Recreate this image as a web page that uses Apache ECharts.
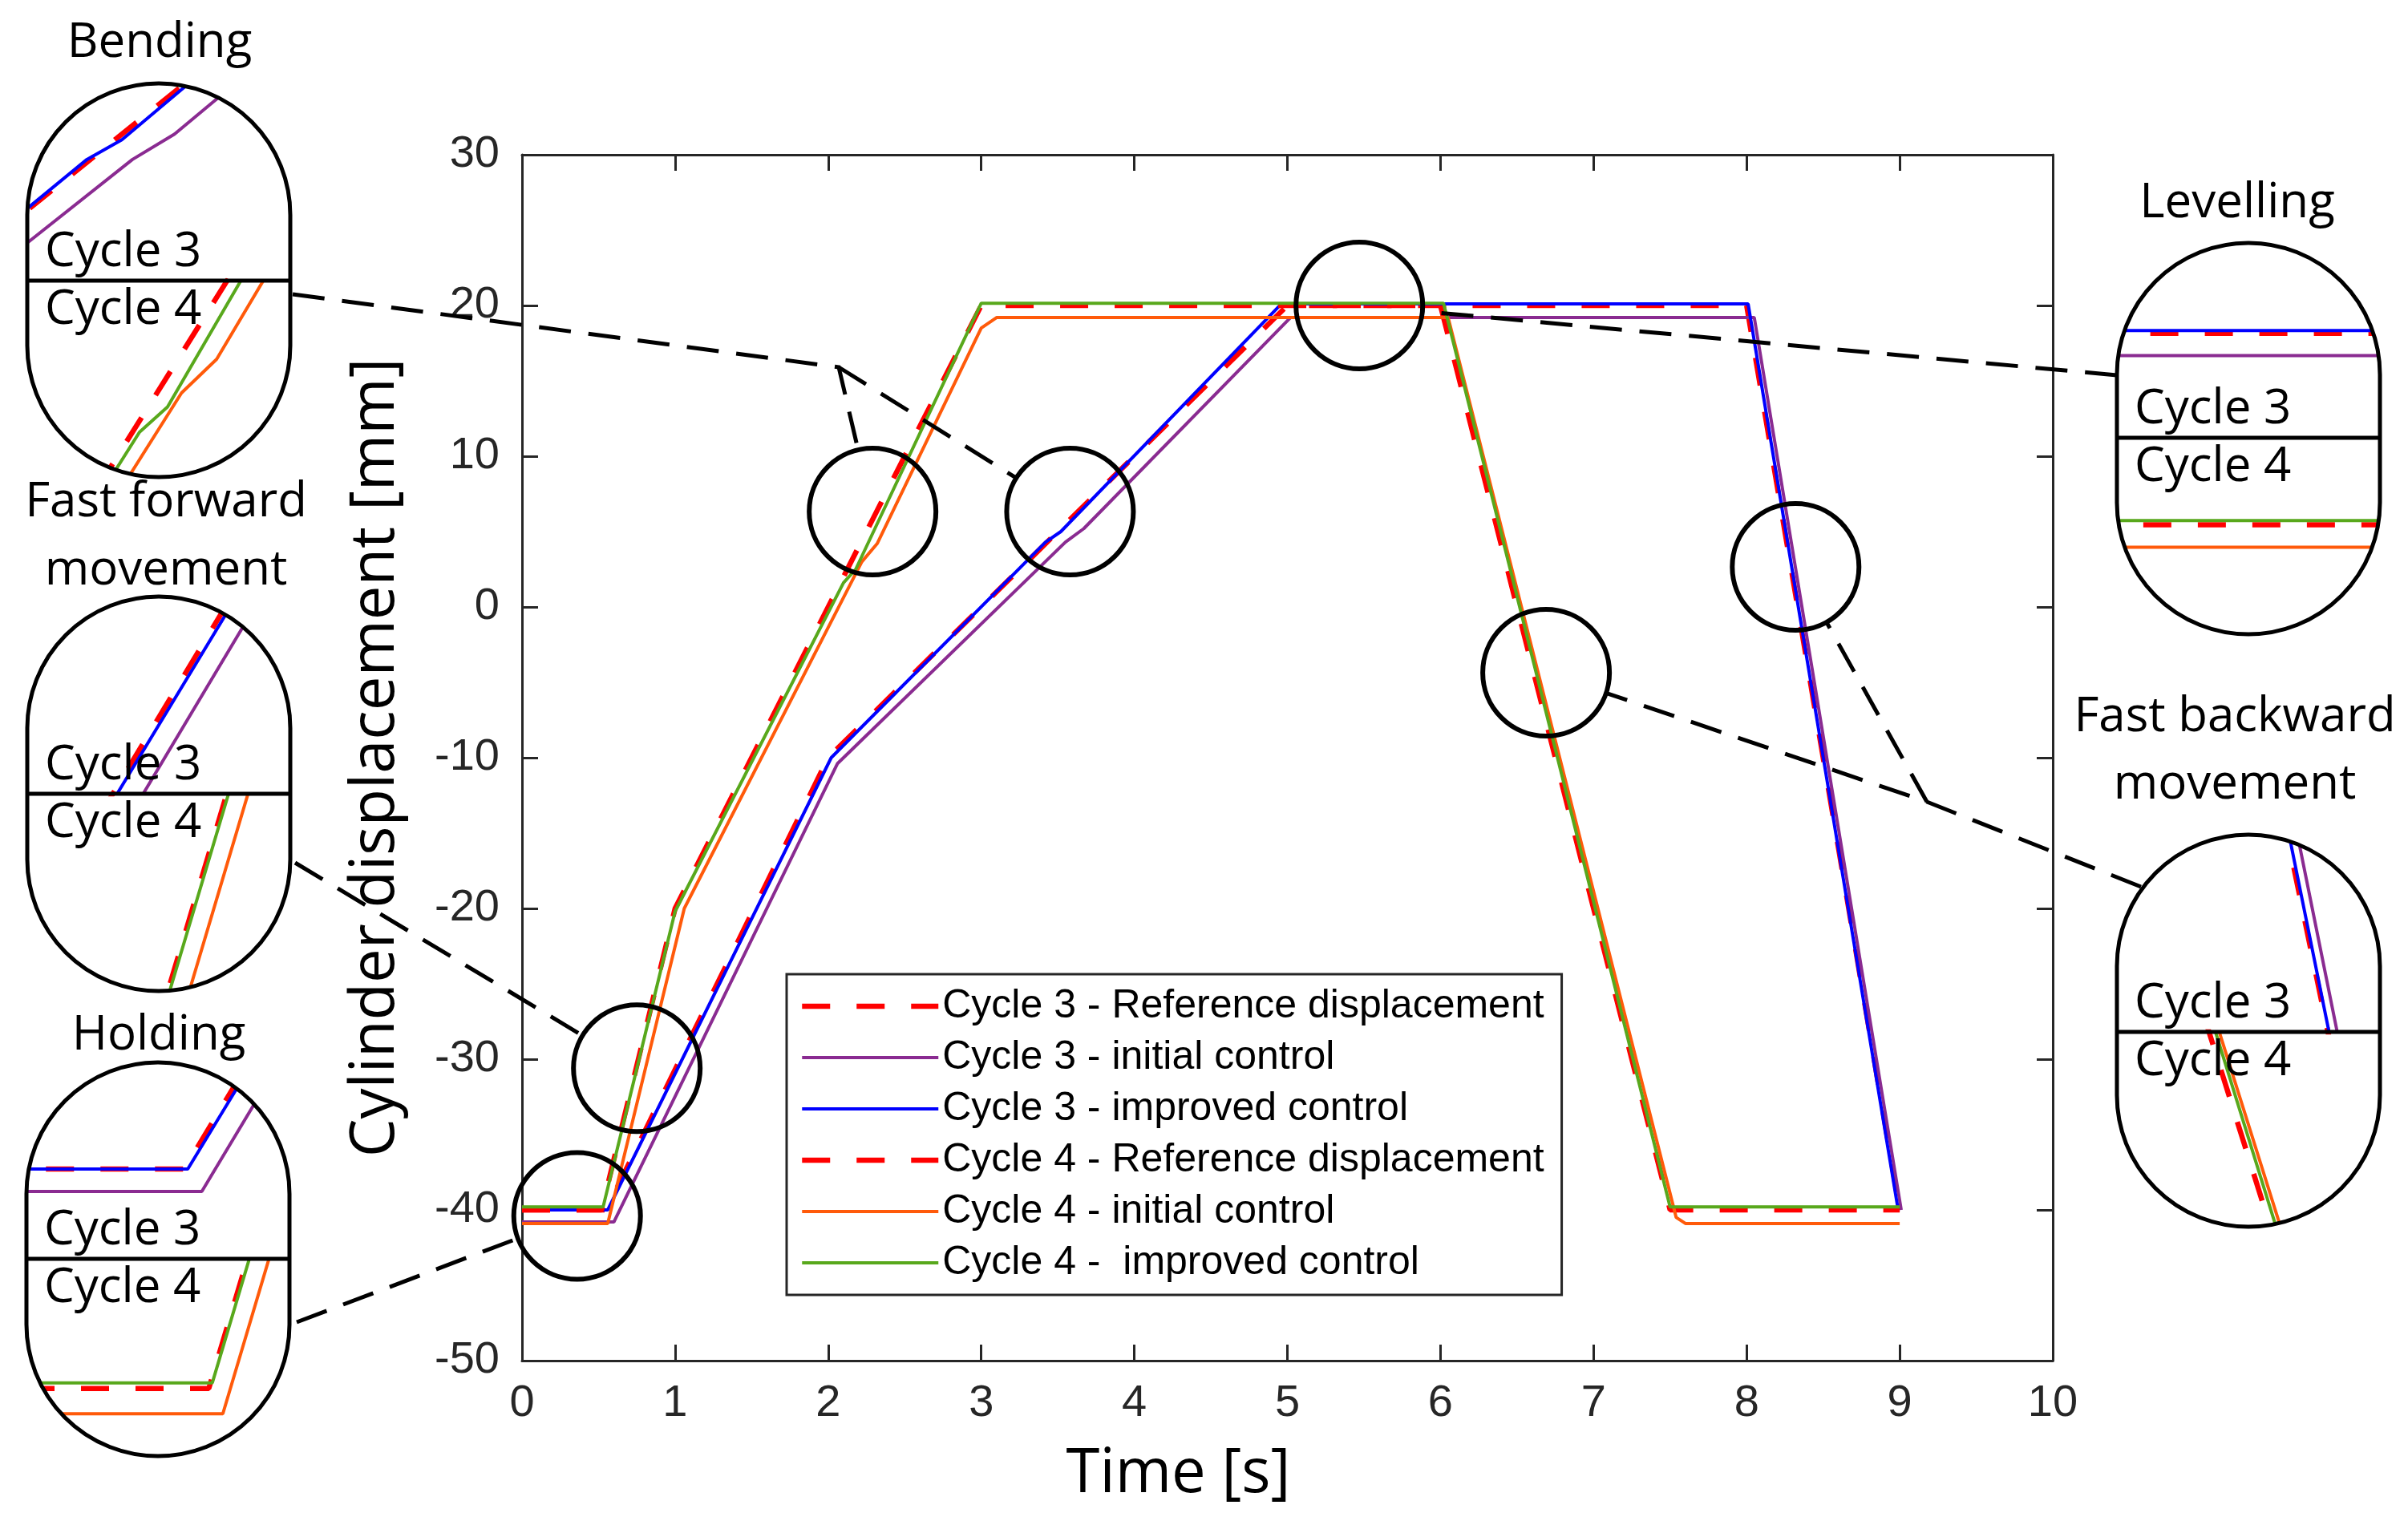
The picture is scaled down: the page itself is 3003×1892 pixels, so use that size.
<!DOCTYPE html>
<html>
<head>
<meta charset="utf-8">
<script src="https://cdn.jsdelivr.net/npm/echarts/dist/echarts.min.js"></script>
<style>
  html, body { margin: 0; padding: 0; background: #fff; }
  #main { width: 3003px; height: 1892px; }
</style>
</head>
<body>
<div id="main"></div>
<script>
// [time s, displacement mm]
var ref3  = [[0,-40],[0.55,-40],[2.0,-10],[5.0,20],[8.0,20],[9.0,-40]];
var init3 = [[0,-40.8],[0.6,-40.8],[2.06,-10.4],[3.55,4.3],[3.67,5.2],[5.02,19.2],[8.05,19.2],[9.01,-40]];
var impr3 = [[0,-40],[0.56,-40],[2.02,-10],[3.42,4.3],[3.52,5.0],[4.96,20.1],[8.01,20.1],[8.99,-40],[9.0,-40]];
var ref4  = [[0,-40],[0.52,-40],[1.0,-20],[3.0,20],[6.0,20],[7.5,-40],[9.0,-40]];
var init4 = [[0,-40.9],[0.56,-40.9],[1.06,-20],[2.22,3.0],[2.32,4.2],[3.0,18.5],[3.1,19.2],[6.05,19.2],[7.54,-40.5],[7.6,-40.9],[9.0,-40.9]];
var impr4 = [[0,-39.8],[0.53,-39.8],[1.0,-20.2],[2.1,1.6],[2.18,2.5],[3.0,20.15],[6.02,20.15],[7.5,-39.8],[9.0,-39.8]];

var seriesNames = ['Cycle 3 - Reference displacement', 'Cycle 3 - initial control', 'Cycle 3 - improved control',
                   'Cycle 4 - Reference displacement', 'Cycle 4 - initial control', 'Cycle 4 -  improved control'];

var xRange = [0, 10, 1];     // min, max, step
var yRange = [-50, 30, 10];

// circled regions on the main plot [t, mm]
var zoomCenters = [[0.36,-40.4],[0.75,-30.6],[2.29,6.33],[3.58,6.33],[5.47,20.0],[6.69,-4.36],[8.32,2.66]];

// zoom windows of the insets [tMin, tMax, vMin, vMax] for cycle 3 and cycle 4
var winBending  = [[3.25,4.0,0,7],[1.78,2.53,0,7]];
var winForward  = [[0.62,1.37,-33.5,-26.5],[0.275,1.025,-33.5,-26.5]];
var winHolding  = [[0.10,0.85,-43.2,-36.2],[0.0,0.75,-42.4,-35.4]];
var winLevel    = [[5.2,5.95,16.25,23.25],[5.2,5.95,16.1,23.1]];
var winBackward = [[7.79,8.54,-3.5,3.5],[6.15,6.9,-3.5,3.5]];

var styles = [
  {color:'#ff0000', width:6.5, type:[35,33]},
  {color:'#8a2b91', width:4, type:'solid'},
  {color:'#0000ff', width:4, type:'solid'},
  {color:'#ff0000', width:6.5, type:[35,33]},
  {color:'#ff5a0a', width:4, type:'solid'},
  {color:'#58a81c', width:4, type:'solid'}
];
var cycleData = [[ref3, init3, impr3], [ref4, init4, impr4]];

// inset pills: left, top, width, height, divider y
var insets = [
  {title:['Bending'], tx:199, ty:[54], x:34, y:104, w:328, h:491, div:350, win:winBending},
  {title:['Fast forward','movement'], tx:207, ty:[627,712], x:34, y:744, w:328, h:492, div:990, win:winForward},
  {title:['Holding'], tx:198, ty:[1292], x:33, y:1325, w:328, h:491, div:1570, win:winHolding},
  {title:['Levelling'], tx:2790, ty:[254], x:2640, y:303, w:328, h:488, div:546, win:winLevel},
  {title:['Fast backward','movement'], tx:2787, ty:[895,979], x:2640, y:1041, w:328, h:489, div:1287, win:winBackward}
];

var textFont = 'Liberation Sans';
var noteFont = 'Open Sans';
var axisColor = '#262626';

function lineSeries(name, data, st, ai) {
  return {
    name: name, type: 'line', data: data, xAxisIndex: ai, yAxisIndex: ai,
    showSymbol: false, symbol: 'none', silent: true, clip: true,
    lineStyle: {color: st.color, width: st.width, type: st.type},
    itemStyle: {color: st.color}
  };
}

var grids = [{left: 651, top: 193, width: 1909, height: 1504}];
var xAxes = [
  {type:'value', gridIndex:0, min:xRange[0], max:xRange[1], interval:xRange[2], position:'bottom',
   axisLine:{onZero:false, lineStyle:{color:axisColor, width:3}},
   axisTick:{inside:true, length:20, lineStyle:{color:axisColor, width:3}},
   axisLabel:{fontFamily:textFont, fontSize:56, color:axisColor, margin:26},
   splitLine:{show:false},
   name:'Time [s]', nameLocation:'middle', nameGap:104,
   nameTextStyle:{fontFamily:noteFont, fontSize:76, color:'#000', padding:[0,272,0,0]}},
  {type:'value', gridIndex:0, min:xRange[0], max:xRange[1], interval:xRange[2], position:'top',
   axisLine:{onZero:false, lineStyle:{color:axisColor, width:3}},
   axisTick:{inside:true, length:20, lineStyle:{color:axisColor, width:3}},
   axisLabel:{show:false}, splitLine:{show:false}}
];
var yAxes = [
  {type:'value', gridIndex:0, min:yRange[0], max:yRange[1], interval:yRange[2], position:'left',
   axisLine:{onZero:false, lineStyle:{color:axisColor, width:3}},
   axisTick:{inside:true, length:20, lineStyle:{color:axisColor, width:3}},
   axisLabel:{fontFamily:textFont, fontSize:56, color:axisColor, margin:28},
   splitLine:{show:false},
   name:'Cylinder displacement [mm]', nameLocation:'middle', nameGap:144, nameRotate:90,
   nameTextStyle:{fontFamily:noteFont, fontSize:76, color:'#000'}},
  {type:'value', gridIndex:0, min:yRange[0], max:yRange[1], interval:yRange[2], position:'right',
   axisLine:{onZero:false, lineStyle:{color:axisColor, width:3}},
   axisTick:{inside:true, length:20, lineStyle:{color:axisColor, width:3}},
   axisLabel:{show:false}, splitLine:{show:false}}
];

var series = [];
for (var i = 0; i < 6; i++) {
  series.push(lineSeries(seriesNames[i], cycleData[Math.floor(i/3)][i%3], styles[i], 0));
}
series.push({
  type:'scatter', data: zoomCenters, xAxisIndex:0, yAxisIndex:0, symbol:'circle', symbolSize:158,
  silent:true, z:4, itemStyle:{color:'rgba(0,0,0,0)', borderColor:'#000', borderWidth:6, opacity:1}
});

// each inset = two small grids (cycle 3 above the divider, cycle 4 below)
insets.forEach(function (b) {
  [0, 1].forEach(function (c) {
    var gi = grids.length;
    var top = c === 0 ? b.y : b.div;
    var hh = c === 0 ? b.div - b.y : b.y + b.h - b.div;
    var w = b.win[c];
    grids.push({left:b.x, top:top, width:b.w, height:hh});
    xAxes.push({type:'value', gridIndex:gi, min:w[0], max:w[1], show:false});
    yAxes.push({type:'value', gridIndex:gi, min:w[2], max:w[3], show:false});
    for (var k = 0; k < 3; k++) {
      series.push(lineSeries(seriesNames[c*3+k], cycleData[c][k], styles[c*3+k], gi + 1));
    }
  });
});

// legend shows only the line, no marker
var legendData = seriesNames.map(function (n, i) {
  return {name:n, itemStyle:{opacity:0},
          lineStyle:{width:styles[i].width, type:styles[i].type, color:styles[i].color}};
});

var chart = echarts.init(document.getElementById('main'));
chart.setOption({
  animation: false,
  backgroundColor: '#fff',
  grid: grids,
  xAxis: xAxes,
  yAxis: yAxes,
  legend: {
    data: legendData, orient:'vertical', left:981, top:1215, selectedMode:false,
    padding:[12,22,12,16], itemGap:8, itemWidth:170, itemHeight:40,
    backgroundColor:'#fff', borderColor:axisColor, borderWidth:3,
    textStyle:{fontFamily:textFont, fontSize:50, color:'#000', lineHeight:56}
  },
  series: series
});

// annotations: pills, labels, dashed connectors
var R = 79;
var cpx = zoomCenters.map(function (p) { return chart.convertToPixel({gridIndex:0}, p); });
function edge(ci, from) {
  var c = cpx[ci], dx = from[0]-c[0], dy = from[1]-c[1], d = Math.sqrt(dx*dx+dy*dy);
  return [c[0]+R*dx/d, c[1]+R*dy/d];
}
var J1 = [1046, 458], J2 = [2403, 1000];
var connectors = [
  [[365,367], J1, edge(2, J1)],
  [J1, edge(3, J1)],
  [[368,1076], edge(1, [368,1076])],
  [[370,1649], edge(0, [370,1649])],
  [[2640,468], edge(4, [2640,468])],
  [[2670,1106], J2, edge(5, J2)],
  [J2, edge(6, J2)]
];

var g = [];
insets.forEach(function (b) {
  g.push({type:'rect', z:50, silent:true,
    shape:{x:b.x-35, y:b.y-35, width:b.w+70, height:b.h+70, r:(b.w+70)/2},
    style:{fill:null, stroke:'#fff', lineWidth:72}});
  g.push({type:'rect', z:60, silent:true,
    shape:{x:b.x, y:b.y, width:b.w, height:b.h, r:b.w/2},
    style:{fill:null, stroke:'#000', lineWidth:5}});
  g.push({type:'line', z:60, silent:true,
    shape:{x1:b.x, y1:b.div, x2:b.x+b.w, y2:b.div},
    style:{stroke:'#000', lineWidth:5}});
  b.title.forEach(function (t, i) {
    g.push({type:'text', z:70, silent:true, x:b.tx, y:b.ty[i],
      style:{text:t, fontFamily:noteFont, fontSize:60, fill:'#000', align:'center', verticalAlign:'middle'}});
  });
  g.push({type:'text', z:70, silent:true, x:b.x+22, y:b.div-35,
    style:{text:'Cycle 3', fontFamily:noteFont, fontSize:60, fill:'#000', align:'left', verticalAlign:'middle'}});
  g.push({type:'text', z:70, silent:true, x:b.x+22, y:b.div+37,
    style:{text:'Cycle 4', fontFamily:noteFont, fontSize:60, fill:'#000', align:'left', verticalAlign:'middle'}});
});
connectors.forEach(function (pts) {
  g.push({type:'polyline', z:70, silent:true, shape:{points:pts},
    style:{fill:null, stroke:'#000', lineWidth:5, lineDash:[40,22]}});
});
chart.setOption({graphic: g});
</script>
</body>
</html>
